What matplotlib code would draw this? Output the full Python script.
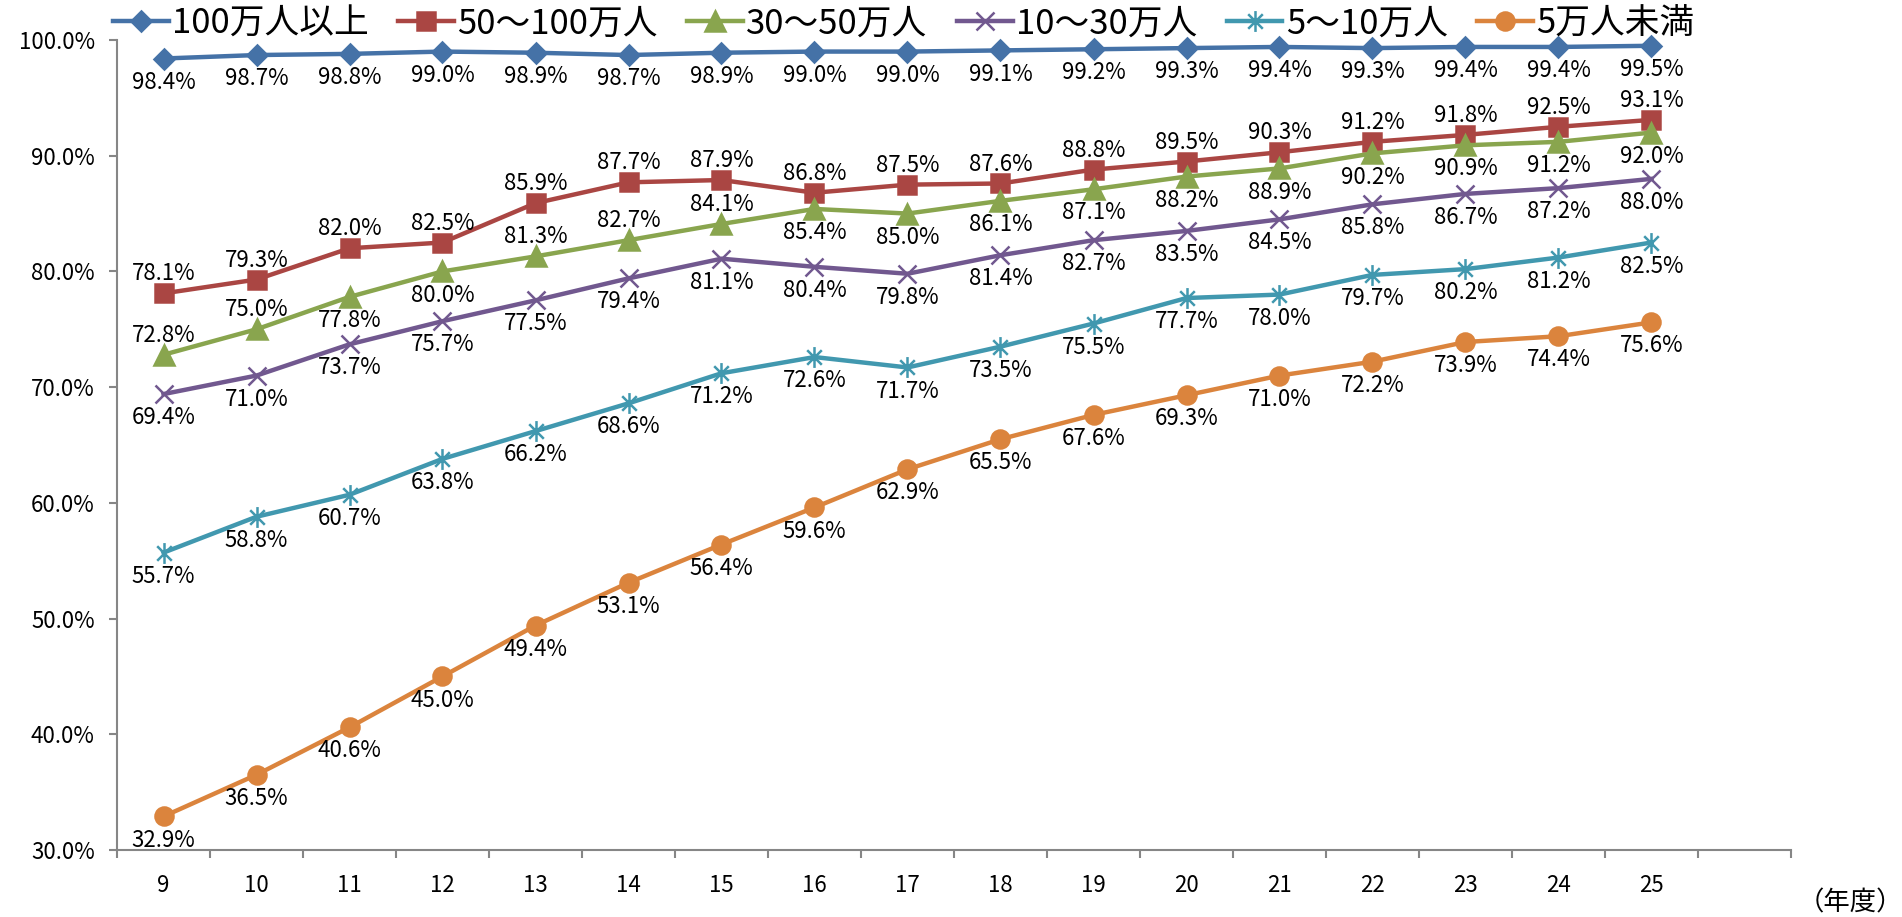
import numpy as np
import matplotlib as mpl
mpl.use('Agg')
import matplotlib.pyplot as plt
from matplotlib.path import Path

plt.rcParams['font.family'] = ['Noto Sans CJK JP', 'DejaVu Sans']

years = ['9', '10', '11', '12', '13', '14', '15', '16', '17', '18', '19', '20', '21', '22', '23', '24', '25']

over_1m = [98.4, 98.7, 98.8, 99.0, 98.9, 98.7, 98.9, 99.0, 99.0, 99.1, 99.2, 99.3, 99.4, 99.3, 99.4, 99.4, 99.5]
from_500k = [78.1, 79.3, 82.0, 82.5, 85.9, 87.7, 87.9, 86.8, 87.5, 87.6, 88.8, 89.5, 90.3, 91.2, 91.8, 92.5, 93.1]
from_300k = [72.8, 75.0, 77.8, 80.0, 81.3, 82.7, 84.1, 85.4, 85.0, 86.1, 87.1, 88.2, 88.9, 90.2, 90.9, 91.2, 92.0]
from_100k = [69.4, 71.0, 73.7, 75.7, 77.5, 79.4, 81.1, 80.4, 79.8, 81.4, 82.7, 83.5, 84.5, 85.8, 86.7, 87.2, 88.0]
from_50k = [55.7, 58.8, 60.7, 63.8, 66.2, 68.6, 71.2, 72.6, 71.7, 73.5, 75.5, 77.7, 78.0, 79.7, 80.2, 81.2, 82.5]
under_50k = [32.9, 36.5, 40.6, 45.0, 49.4, 53.1, 56.4, 59.6, 62.9, 65.5, 67.6, 69.3, 71.0, 72.2, 73.9, 74.4, 75.6]

names = ['100万人以上', '50～100万人', '30～50万人', '10～30万人', '5～10万人', '5万人未満']

# excel style star marker: x plus vertical bar
star = Path([(0, -1), (0, 1), (-0.7, -0.7), (0.7, 0.7), (-0.7, 0.7), (0.7, -0.7)],
            [Path.MOVETO, Path.LINETO, Path.MOVETO, Path.LINETO, Path.MOVETO, Path.LINETO])

# (data, color, marker, markersize, label placement)
series = [
    (over_1m, '#4572A7', 'D', 10, 'b' * 17),
    (from_500k, '#AA4643', 's', 13, 'a' * 17),
    (from_300k, '#89A54E', '^', 14, 'aabbaaabbbbbbbbbb'),
    (from_100k, '#71588F', 'x', 13, 'b' * 17),
    (from_50k, '#4198AF', star, 15, 'b' * 17),
    (under_50k, '#DB843D', 'o', 13, 'b' * 17),
]

fig = plt.figure(figsize=(19.02, 9.17), dpi=100)
ax = fig.add_axes([117 / 1902, 67 / 917, (1791 - 117) / 1902, (850 - 40) / 917])

x = np.arange(len(years))
for (vals, col, mk, ms, pos), name in zip(series, names):
    ax.plot(x, vals, color=col, lw=3.2, marker=mk, ms=ms, mew=1.8,
            mfc=col, mec=col, label=name, clip_on=False, zorder=3)
    for xi, v, p in zip(x, vals, pos):
        dy = 14 if p == 'a' else -17
        ax.annotate(f'{v:.1f}%', (xi, v), xytext=(0, dy), textcoords='offset points',
                    ha='center', va='center', fontsize=16, color='black', zorder=4)

ax.set_ylim(30, 100)
ax.set_yticks(np.arange(30, 101, 10))
ax.set_yticklabels([f'{t:.1f}%' for t in np.arange(30, 101, 10)])
ax.set_xlim(-0.5, 17.5)
ax.set_xticks(x)
ax.set_xticklabels(years)
ax.set_xticks(np.arange(-0.5, 18, 1), minor=True)

for s in ['top', 'right']:
    ax.spines[s].set_visible(False)
for s in ['left', 'bottom']:
    ax.spines[s].set_color('#868686')
    ax.spines[s].set_linewidth(1.5)

ax.tick_params(axis='y', direction='out', length=6, width=1.5, color='#868686',
               labelsize=16, pad=10)
ax.tick_params(axis='x', which='major', length=0, labelsize=16, pad=17)
ax.tick_params(axis='x', which='minor', direction='out', length=6, width=1.5, color='#868686')

fig.legend(loc='center left', bbox_to_anchor=(113 / 1902, 1 - 24 / 917), ncol=6,
           frameon=False, fontsize=25, handlelength=1.6, handletextpad=0.1,
           columnspacing=0.85, borderaxespad=0, borderpad=0, numpoints=1)

fig.text(1850 / 1902, 1 - 903 / 917, '（年度）', ha='center', va='center', fontsize=19)

fig.savefig('out.png', dpi=100)
